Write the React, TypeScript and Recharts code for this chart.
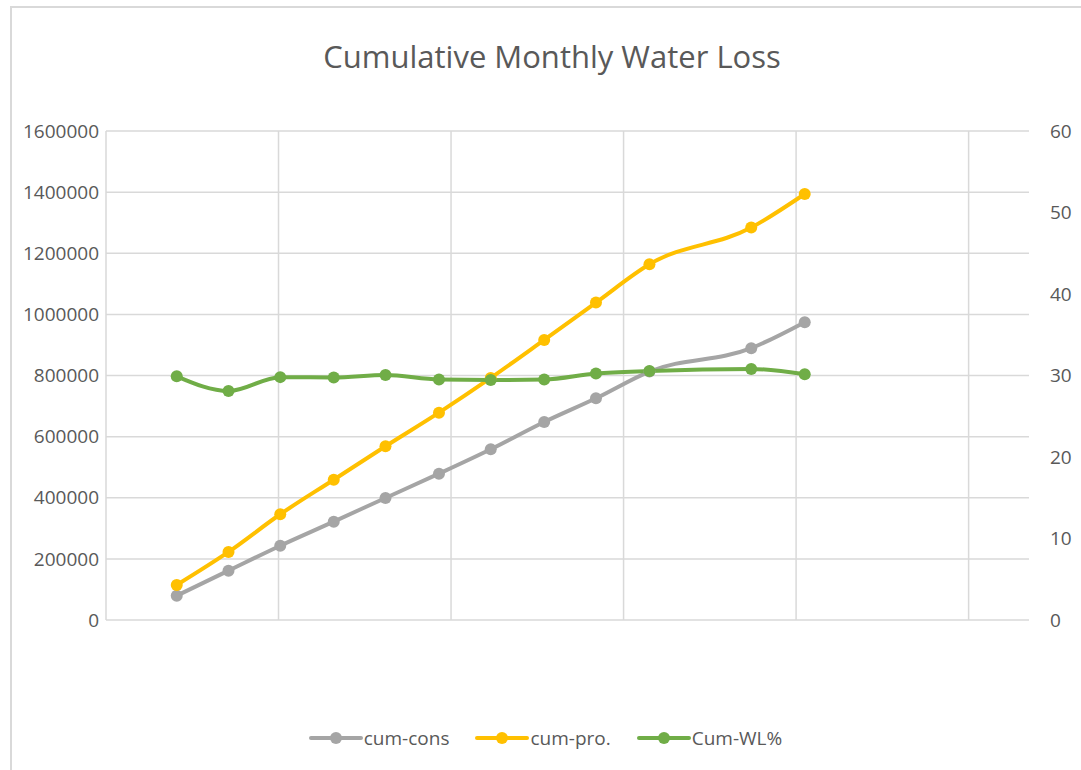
import { LineChart, Line, XAxis, YAxis, CartesianGrid, Legend } from "recharts";

// x position of each monthly reading, in days from the axis origin
const days = [41, 71, 101, 132, 162, 193, 223, 254, 284, 315, 374, 405];
const cumCons = [79500, 161400, 243000, 321800, 399300, 478900, 558700, 648000, 725600, 813000, 889500, 974500];
const cumPro = [114600, 222600, 346000, 459000, 568500, 678500, 792000, 916500, 1038600, 1164000, 1284000, 1394000];
const cumWL = [29.9, 28.1, 29.8, 29.75, 30.05, 29.5, 29.45, 29.5, 30.25, 30.55, 30.8, 30.15];

const seriesNames = ["cum-cons", "cum-pro.", "Cum-WL%"];
const leftTicks = [0, 200000, 400000, 600000, 800000, 1000000, 1200000, 1400000, 1600000];
const rightTicks = [0, 10, 20, 30, 40, 50, 60];
const dayTicks = [0, 100, 200, 300, 400, 500];

const FONT = "'Open Sans', sans-serif";
const TEXT = "#595959";
const GRID = "#D9D9D9";

const data = days.map((day, i) => ({
  day,
  cons: cumCons[i],
  pro: cumPro[i],
  wl: cumWL[i],
}));

// eslint-disable-next-line @typescript-eslint/no-explicit-any
function renderLegend(props: any) {
  const items = [...(props.payload || [])].sort(
    (a: any, b: any) => seriesNames.indexOf(a.value) - seriesNames.indexOf(b.value)
  );
  return (
    <div style={{ display: "flex", justifyContent: "center", paddingLeft: 36 }}>
      {items.map((item: any) => (
        <div key={item.value} style={{ display: "flex", alignItems: "center", marginRight: 26 }}>
          <svg width={54} height={14}>
            <line x1={2} y1={7} x2={52} y2={7} stroke={item.color} strokeWidth={4} strokeLinecap="round" />
            <circle cx={27} cy={7} r={6} fill={item.color} />
          </svg>
          <span style={{ fontFamily: FONT, fontSize: 19, color: TEXT, marginLeft: 1 }}>{item.value}</span>
        </div>
      ))}
    </div>
  );
}

export default function App() {
  return (
    <div style={{ position: "absolute", left: 0, top: 0, width: 1081, height: 770, overflow: "hidden", background: "#fff" }}>
      <div
        style={{
          position: "absolute",
          left: 10,
          top: 6,
          width: 1080,
          height: 780,
          border: `2px solid ${GRID}`,
        }}
      />
      <div
        style={{
          position: "absolute",
          top: 35,
          left: 0,
          width: 1104,
          textAlign: "center",
          fontFamily: FONT,
          fontSize: 31,
          color: TEXT,
        }}
      >
        Cumulative Monthly Water Loss
      </div>
      <div style={{ position: "absolute", left: 0, top: 0 }}>
        <LineChart width={1081} height={770} data={data} margin={{ top: 131, right: 0, bottom: 150, left: 0 }}>
          <CartesianGrid yAxisId="left" stroke={GRID} strokeWidth={1.5} syncWithTicks />
          <XAxis
            dataKey="day"
            type="number"
            domain={[0, 535]}
            ticks={dayTicks}
            tick={() => <g />}
            axisLine={false}
            tickLine={false}
            height={0}
          />
          <YAxis
            yAxisId="left"
            width={106}
            domain={[0, 1600000]}
            ticks={leftTicks}
            axisLine={false}
            tickLine={false}
            tickMargin={1}
            tick={{ fill: TEXT, fontSize: 19, fontFamily: FONT }}
          />
          <YAxis
            yAxisId="right"
            orientation="right"
            width={52}
            domain={[0, 60]}
            ticks={rightTicks}
            axisLine={false}
            tickLine={false}
            tickMargin={15}
            tick={{ fill: TEXT, fontSize: 19, fontFamily: FONT, textAnchor: "start" }}
          />
          <Legend
            verticalAlign="middle"
            align="center"
            content={renderLegend}
            wrapperStyle={{ top: 725, left: 0, width: 1081 }}
          />
          <Line
            yAxisId="left"
            type="monotone"
            dataKey="cons"
            name={seriesNames[0]}
            stroke="#A5A5A5"
            strokeWidth={4}
            dot={{ r: 6, fill: "#A5A5A5", stroke: "none" }}
            activeDot={false}
            isAnimationActive={false}
          />
          <Line
            yAxisId="left"
            type="monotone"
            dataKey="pro"
            name={seriesNames[1]}
            stroke="#FFC000"
            strokeWidth={4}
            dot={{ r: 6, fill: "#FFC000", stroke: "none" }}
            activeDot={false}
            isAnimationActive={false}
          />
          <Line
            yAxisId="right"
            type="monotone"
            dataKey="wl"
            name={seriesNames[2]}
            stroke="#70AD47"
            strokeWidth={4}
            dot={{ r: 6, fill: "#70AD47", stroke: "none" }}
            activeDot={false}
            isAnimationActive={false}
          />
        </LineChart>
      </div>
    </div>
  );
}
